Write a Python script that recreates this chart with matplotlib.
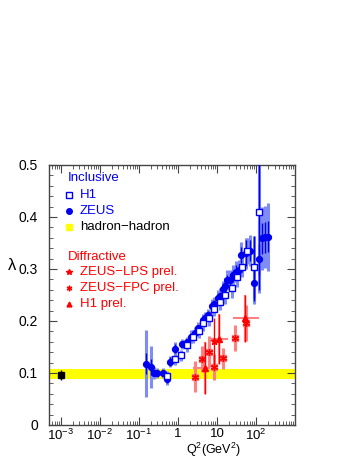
import numpy as np
import matplotlib
matplotlib.use("Agg")
import matplotlib.pyplot as plt
from matplotlib.ticker import FixedLocator, LogLocator, MultipleLocator, NullFormatter, FuncFormatter

plt.rcParams['font.family'] = ['Liberation Sans', 'DejaVu Sans']
plt.rcParams['mathtext.fontset'] = 'custom'
plt.rcParams['mathtext.rm'] = 'Liberation Sans'

# inclusive ZEUS
zeus_q2 = [0.15, 0.20, 0.25, 0.30, 0.41, 0.53, 0.64, 0.85, 1.3, 1.7, 2.2, 2.7, 3.3, 4.3,
           5.0, 6.0, 7.5, 8.5, 10.5, 12, 14, 16, 18, 22, 26, 30, 36, 42, 56, 71, 90,
           121, 142, 166, 203]
zeus_lam = [0.118, 0.112, 0.100, 0.100, 0.100, 0.088, 0.122, 0.147, 0.156, 0.160, 0.170,
            0.176, 0.186, 0.202, 0.206, 0.212, 0.228, 0.232, 0.244, 0.248, 0.262, 0.268,
            0.279, 0.279, 0.288, 0.295, 0.298, 0.327, 0.330, 0.335, 0.273, 0.319, 0.359,
            0.361, 0.362]
zeus_stat = [0.02, 0.015, 0.005, 0.005, 0.005, 0.008, 0.008, 0.008, 0.006, 0.006, 0.006,
             0.006, 0.006, 0.007, 0.007, 0.007, 0.008, 0.008, 0.008, 0.008, 0.009, 0.009,
             0.01, 0.01, 0.01, 0.012, 0.012, 0.015, 0.025, 0.02, 0.035, 0.03, 0.03, 0.03, 0.03]
zeus_tot = [0.065, 0.04, 0.012, 0.01, 0.01, 0.012, 0.01, 0.012, 0.01, 0.01, 0.012, 0.012,
            0.012, 0.012, 0.012, 0.012, 0.015, 0.015, 0.015, 0.015, 0.015, 0.015, 0.02,
            0.02, 0.02, 0.02, 0.02, 0.025, 0.03, 0.03, 0.04, 0.065, 0.06, 0.06, 0.065]

# inclusive H1
h1_q2 = [0.54, 0.82, 1.22, 1.71, 2.44, 3.5, 4.5, 6.1, 8.5, 12.2, 16.4, 24.3, 32.6, 45,
         59, 89, 122]
h1_lam = [0.094, 0.126, 0.134, 0.153, 0.170, 0.180, 0.196, 0.205, 0.224, 0.237, 0.250,
          0.263, 0.285, 0.304, 0.335, 0.304, 0.410]
h1_err = [0.01, 0.01, 0.01, 0.012, 0.012, 0.012, 0.015, 0.015, 0.015, 0.015, 0.018,
          0.018, 0.02, 0.02, 0.025, 0.06, 0.15]

# hadron-hadron
hh_q2 = [1e-3]
hh_lam = [0.096]
hh_err = [0.01]
hh_band = [0.088, 0.108]

# diffractive
fpc_q2 = [2.8, 4.1, 6.1, 8.5, 14.3, 28.3, 56.5]
fpc_lam = [0.093, 0.126, 0.141, 0.112, 0.128, 0.167, 0.196]
fpc_err = [0.03, 0.025, 0.03, 0.025, 0.02, 0.025, 0.035]
lps_q2 = [8.2]
lps_lam = [0.161]
lps_err = [0.045]
h1d_q2 = [5.0, 11, 51]
h1d_lam = [0.109, 0.165, 0.205]
h1d_err = [0.05, 0.048, 0.045]
h1d_xlo = [2.5, 6.8, 26]
h1d_xhi = [6.8, 19.5, 121]

xtick_vals = [1e-3, 1e-2, 1e-1, 1, 10, 100]
xtick_labels = ['$10^{-3}$', '$10^{-2}$', '$10^{-1}$', '1', '10', '$10^{2}$']

blue = '#0000f0'
lblue = '#7f8cf5'
red = '#ff0000'
lred = '#ff8080'

fig = plt.figure(figsize=(3.54, 4.58), dpi=100)
ax = fig.add_axes([49/354, 1-425/458, 246/354, 260/458])

ax.axhspan(hh_band[0], hh_band[1], color='#ffff00', lw=0, zorder=1)

# light bars = total error, dark = stat
ax.errorbar(zeus_q2, zeus_lam, yerr=zeus_tot, fmt='none', ecolor=lblue, elinewidth=2.2,
            capsize=0, zorder=2)
ax.errorbar(h1_q2, h1_lam, yerr=h1_err, fmt='none', ecolor=lblue, elinewidth=2.2,
            capsize=0, zorder=2)
ax.errorbar(zeus_q2, zeus_lam, yerr=zeus_stat, fmt='o', color=blue, ms=4.2, elinewidth=1,
            capsize=0, zorder=4)
ax.errorbar(h1_q2[-2:], h1_lam[-2:], yerr=h1_err[-2:], fmt='none', ecolor=blue,
            elinewidth=1, capsize=0, zorder=3)
ax.plot(h1_q2, h1_lam, 's', mfc='white', mec=blue, mew=1, ms=4.8, zorder=5, ls='none')

ax.errorbar(hh_q2, hh_lam, yerr=hh_err, fmt='s', color='black', ms=4, elinewidth=1,
            capsize=0, zorder=5)

# diffractive
ax.errorbar(fpc_q2, fpc_lam, yerr=fpc_err, fmt='none', ecolor=lred, elinewidth=2.2,
            capsize=0, zorder=2)
ax.plot(fpc_q2, fpc_lam, ls='none', marker='s', mfc='none', mec=lred, ms=5, mew=1, zorder=5)
ax.plot(fpc_q2, fpc_lam, ls='none', marker=(6, 2, 0), color=red, ms=5, mew=1, zorder=6)
ax.errorbar(lps_q2, lps_lam, yerr=lps_err, fmt='*', color=red, ms=5, elinewidth=1,
            capsize=0, zorder=5)
h1d_xerr = [np.array(h1d_q2) - np.array(h1d_xlo), np.array(h1d_xhi) - np.array(h1d_q2)]
ax.errorbar(h1d_q2, h1d_lam, yerr=h1d_err, xerr=h1d_xerr, fmt='none', ecolor=lred,
            elinewidth=1.5, capsize=0, zorder=2)
ax.errorbar(h1d_q2, h1d_lam, yerr=h1d_err, fmt='^', color=red, ms=4.5, elinewidth=1,
            capsize=0, zorder=5)

ax.set_xscale('log')
ax.set_xlim(5e-4, 1000)
ax.set_ylim(0, 0.5)

ax.yaxis.set_major_locator(MultipleLocator(0.1))
ax.yaxis.set_minor_locator(MultipleLocator(0.02))
ax.yaxis.set_major_formatter(FuncFormatter(lambda v, p: '%g' % round(v, 3)))
ax.xaxis.set_major_locator(FixedLocator(xtick_vals))
ax.xaxis.set_minor_locator(LogLocator(base=10, subs=np.arange(2, 10), numticks=20))
ax.xaxis.set_minor_formatter(NullFormatter())
ax.set_xticklabels(xtick_labels)

ax.tick_params(which='both', direction='in', top=True, right=True, labelsize=10,
               color='#444444')
ax.tick_params(which='major', length=6, width=0.8)
ax.tick_params(which='minor', length=3, width=0.6)
ax.tick_params(axis='y', pad=8)
ax.tick_params(axis='x', pad=2, labelsize=9.5)
for s in ax.spines.values():
    s.set_linewidth(1)
    s.set_color('#444444')

fig.text(12/354, 1-265/458, 'λ', fontsize=12, ha='center', va='center')
fig.text(213/354, 1-454/458, 'Q$^{2}$(GeV$^{2}$)', fontsize=9, ha='center', va='baseline')

# legend
tr = ax.transAxes
mx, tx = 0.077, 0.126
fs = 9.5
ax.text(mx, 0.95, 'Inclusive', color=blue, fontsize=fs, va='center', transform=tr)
ax.plot([mx + 0.005], [0.885], 's', mfc='white', mec=blue, ms=4, transform=tr)
ax.text(tx, 0.885, 'H1', color=blue, fontsize=fs, va='center', transform=tr)
ax.plot([mx + 0.005], [0.823], 'o', color=blue, ms=4, transform=tr)
ax.text(tx, 0.823, 'ZEUS', color=blue, fontsize=fs, va='center', transform=tr)
ax.plot([mx + 0.005], [0.762], 's', color='#ffff00', ms=4, transform=tr)
ax.text(tx, 0.762, 'hadron\u2212hadron', color='black', fontsize=fs, va='center', transform=tr)
ax.text(mx, 0.646, 'Diffractive', color=red, fontsize=fs, va='center', transform=tr)
ax.plot([mx + 0.005], [0.588], '*', color=red, ms=4, transform=tr)
ax.text(tx, 0.588, 'ZEUS\u2212LPS prel.', color=red, fontsize=fs, va='center', transform=tr)
ax.plot([mx + 0.005], [0.527], marker=(6, 2, 0), color=red, ms=4, transform=tr)
ax.text(tx, 0.527, 'ZEUS\u2212FPC prel.', color=red, fontsize=fs, va='center', transform=tr)
ax.plot([mx + 0.005], [0.465], '^', color=red, ms=3.5, transform=tr)
ax.text(tx, 0.465, 'H1 prel.', color=red, fontsize=fs, va='center', transform=tr)

fig.savefig('out.png', dpi=100)
